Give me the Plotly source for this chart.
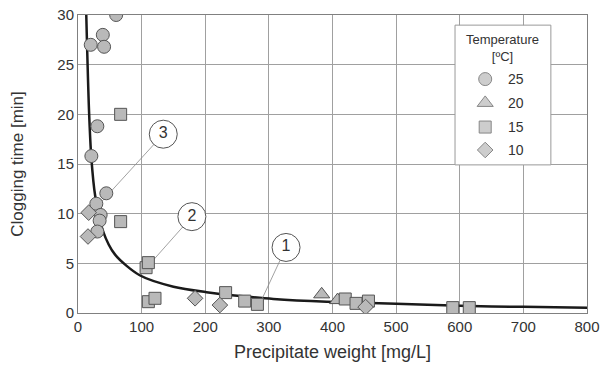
import plotly.graph_objects as go

# ---- data ----
t25_x = [60, 39, 20, 41, 30.4, 21, 44.5, 28.8, 35.6, 34, 30.4]
t25_y = [30, 28, 27, 26.8, 18.8, 15.8, 12.05, 11.0, 9.87, 9.3, 8.2]

t20_x = [383, 408]
t20_y = [1.88, 1.3]

t15_x = [67, 67, 107, 110.6, 110.6, 121, 232, 262, 282, 420, 437, 456.5, 589, 615]
t15_y = [20, 9.2, 4.56, 5.07, 1.14, 1.48, 2.05, 1.2, 0.87, 1.41, 0.97, 1.2, 0.54, 0.54]

t10_x = [16.8, 15.7, 184, 223, 452]
t10_y = [10.1, 7.7, 1.48, 0.8, 0.6]

curve_x = [13, 17.3, 21, 27, 39, 58, 97, 150, 202, 255, 307, 391, 500, 600, 700, 800]
curve_y = [30, 20.4, 15.6, 11.8, 8.3, 5.9, 3.8, 2.65, 2.1, 1.72, 1.42, 1.14, 0.93, 0.72, 0.62, 0.53]

callout_labels = ["1", "2", "3"]
callout_cx = [327, 179, 134]
callout_cy = [6.6, 9.7, 18.0]
callout_px = [289, 118, 27]
callout_py = [1.38, 5.3, 10.5]

temps = ["25", "20", "15", "10"]
legend_title = "Temperature<br>[ºC]"

FILL = "#b9b9b9"
EDGE = "#555555"
TXT = "#333333"
FONT = "Liberation Sans, Arial, sans-serif"

symbols = ["circle", "triangle-up", "square", "diamond"]
sizes = [13, 14, 12, 12]

fig = go.Figure()

# fitted curve
fig.add_trace(go.Scatter(x=curve_x, y=curve_y, mode="lines",
                         line=dict(color="#1a1a1a", width=2.5, shape="spline", smoothing=0.8),
                         showlegend=False, hoverinfo="skip"))

# leader lines
for cx, cy, px, py in zip(callout_cx, callout_cy, callout_px, callout_py):
    fig.add_trace(go.Scatter(x=[cx, px], y=[cy, py], mode="lines",
                             line=dict(color="#8a8a8a", width=0.8),
                             showlegend=False, hoverinfo="skip"))

series = [(t25_x, t25_y), (t20_x, t20_y), (t15_x, t15_y), (t10_x, t10_y)]
for (xs, ys), name, sym, sz in zip(series, temps, symbols, sizes):
    fig.add_trace(go.Scatter(x=xs, y=ys, mode="markers", name=name,
                             marker=dict(symbol=sym, size=sz, color=FILL,
                                         line=dict(color=EDGE, width=1)),
                             showlegend=False))

# callout circles
fig.add_trace(go.Scatter(x=callout_cx, y=callout_cy, mode="markers+text",
                         text=callout_labels, textposition="middle center",
                         textfont=dict(size=16, color=TXT, family=FONT),
                         marker=dict(symbol="circle", size=28, color="white",
                                     line=dict(color="#555555", width=1)),
                         showlegend=False, hoverinfo="skip"))

# ---- manual legend (overlay axes in 0..1 units over the plot area) ----
lx0, lx1, ly0, ly1 = 0.7407, 0.929, 0.497, 0.966
row_y = [0.785, 0.705, 0.624, 0.547]
mk_x = 0.8
tx_x = 0.84
fig.add_trace(go.Scatter(x=[lx0, lx1, lx1, lx0, lx0], y=[ly0, ly0, ly1, ly1, ly0],
                         mode="lines", fill="toself", fillcolor="white",
                         line=dict(color="#999999", width=1),
                         xaxis="x2", yaxis="y2", showlegend=False, hoverinfo="skip"))
fig.add_trace(go.Scatter(x=[mk_x] * 4, y=row_y, mode="markers", xaxis="x2", yaxis="y2",
                         marker=dict(symbol=symbols, size=sizes, color=FILL,
                                     line=dict(color=EDGE, width=1)),
                         showlegend=False, hoverinfo="skip"))
for ty, t in zip(row_y, temps):
    fig.add_annotation(x=tx_x, y=ty, xref="x2", yref="y2", text=t, showarrow=False,
                       xanchor="left", yanchor="middle",
                       font=dict(size=14, color=TXT, family=FONT))
fig.add_annotation(x=(lx0 + lx1) / 2, y=0.888, xref="x2", yref="y2", text=legend_title,
                   showarrow=False, xanchor="center", yanchor="middle", align="center",
                   font=dict(size=13, color=TXT, family=FONT))

axis_common = dict(showgrid=True, gridcolor="#a0a0a0", gridwidth=1,
                   showline=True, linecolor="#808080", linewidth=1, mirror=True,
                   zeroline=False, ticks="", automargin=False,
                   tickfont=dict(size=15, color=TXT, family=FONT))

fig.update_xaxes(range=[0, 800], dtick=100, **axis_common,
                 title=dict(text="Precipitate weight [mg/L]", standoff=11,
                            font=dict(size=18, color=TXT, family=FONT)))
fig.update_yaxes(range=[0, 30], dtick=5, **axis_common,
                 title=dict(text="Clogging time [min]", standoff=29,
                            font=dict(size=17, color=TXT, family=FONT)))

fig.update_layout(
    width=600, height=365,
    margin=dict(l=78, r=13, t=15, b=52),
    paper_bgcolor="white", plot_bgcolor="white",
    font=dict(family=FONT, color=TXT),
    showlegend=False,
    xaxis2=dict(overlaying="x", range=[0, 1], visible=False, fixedrange=True),
    yaxis2=dict(overlaying="y", range=[0, 1], visible=False, fixedrange=True),
)

fig.write_html("out.html")
